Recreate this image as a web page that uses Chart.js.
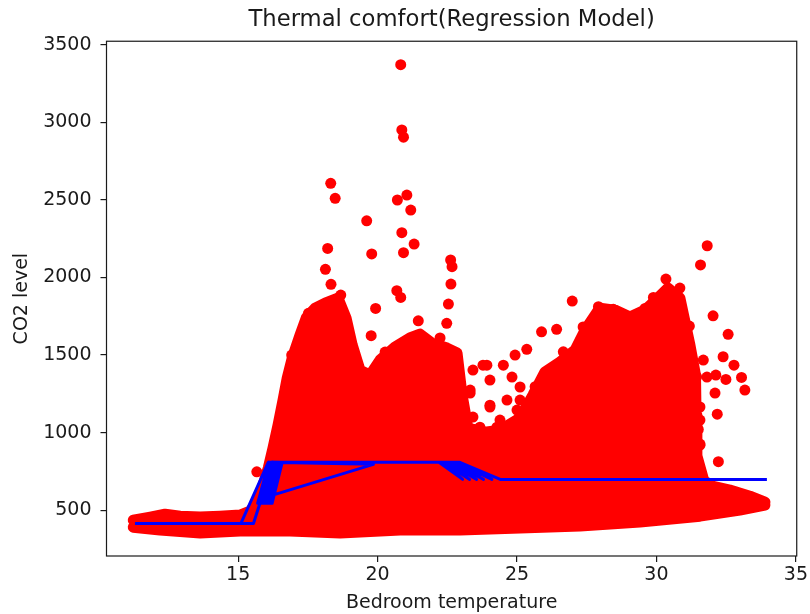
<!DOCTYPE html>
<html>
<head>
<meta charset="utf-8">
<script src="https://cdn.jsdelivr.net/npm/chart.js@4/dist/chart.umd.min.js"></script>
<style>
html,body{margin:0;padding:0;background:#fff;}
canvas{display:block;}
</style>
</head>
<body>
<canvas id="c" width="810" height="614"></canvas>
<script>
// ---- text ----
const chartTitle = "Thermal comfort(Regression Model)";
const xLabel = "Bedroom temperature";
const yLabel = "CO2 level";

// ---- tick labels ----
const xTicks = [15, 20, 25, 30, 35];
const yTicks = [500, 1000, 1500, 2000, 2500, 3000, 3500];

// ---- dense cloud of observations: upper and lower outline ----
const cloudUpperX = [11.24,11.85,12.38,12.92,13.64,14.35,15.07,15.43,15.65,15.86,16.08,16.25,16.43,16.61,16.76,16.94,17.22,17.44,17.76,18.12,18.58,18.87,19.09,19.37,19.73,20.09,20.63,21.16,21.52,21.95,22.49,22.85,23.03,23.24,23.85,24.39,25.11,25.57,26.0,26.54,27.08,27.44,27.97,28.51,29.05,29.59,29.98,30.41,30.84,31.2,31.4,31.42,31.45,31.7,32.0,32.63,33.35,33.89];
const cloudUpperY = [435,455,474,461,455,461,468,494,545,642,771,900,1048,1210,1352,1481,1629,1739,1803,1835,1868,1739,1565,1403,1371,1468,1552,1610,1635,1577,1545,1513,1242,1029,1003,1016,1094,1242,1390,1455,1532,1661,1803,1790,1745,1790,1855,1932,1868,1565,1371,1113,850,690,655,629,590,552];
const cloudLowerX = [11.24,12.2,13.64,15.07,16.86,18.66,20.81,22.96,25.11,27.26,29.41,31.56,32.99,33.89];
const cloudLowerY = [390,371,352,365,365,352,371,371,384,397,423,461,500,532];

// ---- individual observations outside the dense cloud ----
const pointsX = [20.83,20.87,20.93,18.32,18.48,20.71,21.05,21.19,19.61,20.87,21.31,18.21,19.79,20.93,22.62,22.67,18.13,18.33,22.63,20.69,20.83,22.54,19.93,18.68,22.48,21.46,19.77,18.06,17.52,16.92,15.67,
  26.98,25.88,26.42,25.35,24.93,24.51,26.66,25.65,27.92,28.45,31.82,31.58,30.34,30.84,29.89,29.59,32.03,31.18,32.57,32.39,32.78,33.05,33.17,32.13,32.49,32.18,32.22,31.56,31.44,31.68,31.81,32.1,31.56,31.56,31.2,31.09,31.56,31.5,
  23.42,23.92,24.03,24.82,25.11,23.32,24.03,24.64,23.42,25.0,24.28,
  23.32,24.03,23.67,24.39,25.11,24.86,25.36,23.06,
  17.65,19.66,20.91,20.27,22.24,23.78,27.37,27.72,28.87,30.48,31.13,30.3];
const pointsY = [3373,2952,2905,2608,2511,2500,2532,2435,2366,2289,2216,2188,2152,2160,2113,2070,2053,1956,1958,1915,1872,1829,1801,1887,1705,1721,1625,1823,1769,1500,747,
  1848,1650,1666,1537,1500,1435,1521,1296,1812,1795,2205,2081,1990,1932,1872,1801,1753,1687,1634,1489,1435,1356,1274,1371,1343,1119,812,926,1360,1468,1358,1255,1165,1081,997,823,919,1020,
  1403,1435,1339,1358,1294,1255,1177,1210,1100,1145,1035,
  1274,1165,1035,1081,1210,1016,1100,1145,
  1694,1358,1487,1519,1610,1435,1681,1713,1739,1642,1584,1803];

// ---- regression model prediction (plotted in data order) ----
const fitX = [11.3,15.55,16.25,16.22,15.7,16.1,15.8,16.2,15.9,16.3,16.0,16.4,16.1,16.5,16.22,16.58,
  16.24,19.85,16.08,15.1,15.55,16.25,
  22.95,22.2,23.05,22.35,23.3,22.5,23.55,22.65,23.8,22.8,24.1,22.95,24.4,33.96];
const fitY = [414,414,808,545,545,808,545,808,545,808,545,808,545,808,545,808,
  597,795,808,414,414,808,
  808,808,698,808,698,808,698,808,698,808,698,808,698,698];

const zip = (xs, ys) => xs.map((x, i) => ({x: x, y: ys[i]}));

const FONT = "'DejaVu Sans', sans-serif";
const INK = '#1a1a1a';

const framePlugin = {
  id: 'frame',
  afterDatasetsDraw(chart) {
    const a = chart.chartArea, ctx = chart.ctx;
    ctx.save();
    ctx.strokeStyle = INK;
    ctx.lineWidth = 1.2;
    ctx.strokeRect(a.left, a.top, a.right - a.left, a.bottom - a.top);
    ctx.restore();
  }
};

new Chart(document.getElementById('c'), {
  type: 'line',
  data: {
    datasets: [
      {
        label: 'prediction',
        data: zip(fitX, fitY),
        borderColor: '#0000ff',
        borderWidth: 3,
        borderJoinStyle: 'round',
        pointRadius: 0,
        fill: false,
        tension: 0
      },
      {
        label: 'cloudUpper',
        data: zip(cloudUpperX, cloudUpperY),
        borderColor: '#ff0000',
        backgroundColor: '#ff0000',
        borderWidth: 11,
        borderJoinStyle: 'round',
        borderCapStyle: 'round',
        pointRadius: 0,
        fill: '+1',
        tension: 0
      },
      {
        label: 'cloudLower',
        data: zip(cloudLowerX, cloudLowerY),
        borderColor: '#ff0000',
        backgroundColor: '#ff0000',
        borderWidth: 11,
        borderJoinStyle: 'round',
        borderCapStyle: 'round',
        pointRadius: 0,
        fill: false,
        tension: 0
      },
      {
        label: 'observations',
        data: zip(pointsX, pointsY),
        showLine: false,
        pointRadius: 5.5,
        pointBackgroundColor: '#ff0000',
        pointBorderColor: '#ff0000',
        pointBorderWidth: 0,
        backgroundColor: '#ff0000',
        borderColor: '#ff0000'
      }
    ]
  },
  options: {
    responsive: false,
    devicePixelRatio: 1,
    animation: false,
    events: [],
    layout: {padding: {left: 0, right: 13, top: 0, bottom: 0}},
    plugins: {
      legend: {display: false},
      tooltip: {enabled: false},
      title: {
        display: true,
        text: chartTitle,
        fullSize: false,
        color: INK,
        font: {family: FONT, size: 22.7, weight: 'normal'},
        padding: {top: 6, bottom: 8}
      }
    },
    scales: {
      x: {
        type: 'linear',
        min: 10.28,
        max: 35.03,
        afterBuildTicks: s => { s.ticks = xTicks.map(v => ({value: v})); },
        afterFit: s => { s.height = 58; },
        ticks: {
          color: INK,
          font: {family: FONT, size: 19},
          padding: 2,
          maxRotation: 0,
          autoSkip: false,
          callback: v => String(v)
        },
        grid: {display: true, drawOnChartArea: false, drawTicks: true, tickLength: 6, color: INK, lineWidth: 1.2},
        border: {display: false},
        title: {display: true, text: xLabel, color: INK, font: {family: FONT, size: 19}, padding: {top: 0, bottom: 0}}
      },
      y: {
        type: 'linear',
        min: 204,
        max: 3524,
        afterBuildTicks: s => { s.ticks = yTicks.map(v => ({value: v})); },
        afterFit: s => { s.width = 106.5; },
        ticks: {
          color: INK,
          font: {family: FONT, size: 19},
          padding: 9,
          autoSkip: false,
          callback: v => String(v)
        },
        grid: {display: true, drawOnChartArea: false, drawTicks: true, tickLength: 6, color: INK, lineWidth: 1.2},
        border: {display: false},
        title: {display: true, text: yLabel, color: INK, font: {family: FONT, size: 19}, padding: {top: 11, bottom: 0}}
      }
    }
  },
  plugins: [framePlugin]
});
</script>
</body>
</html>
